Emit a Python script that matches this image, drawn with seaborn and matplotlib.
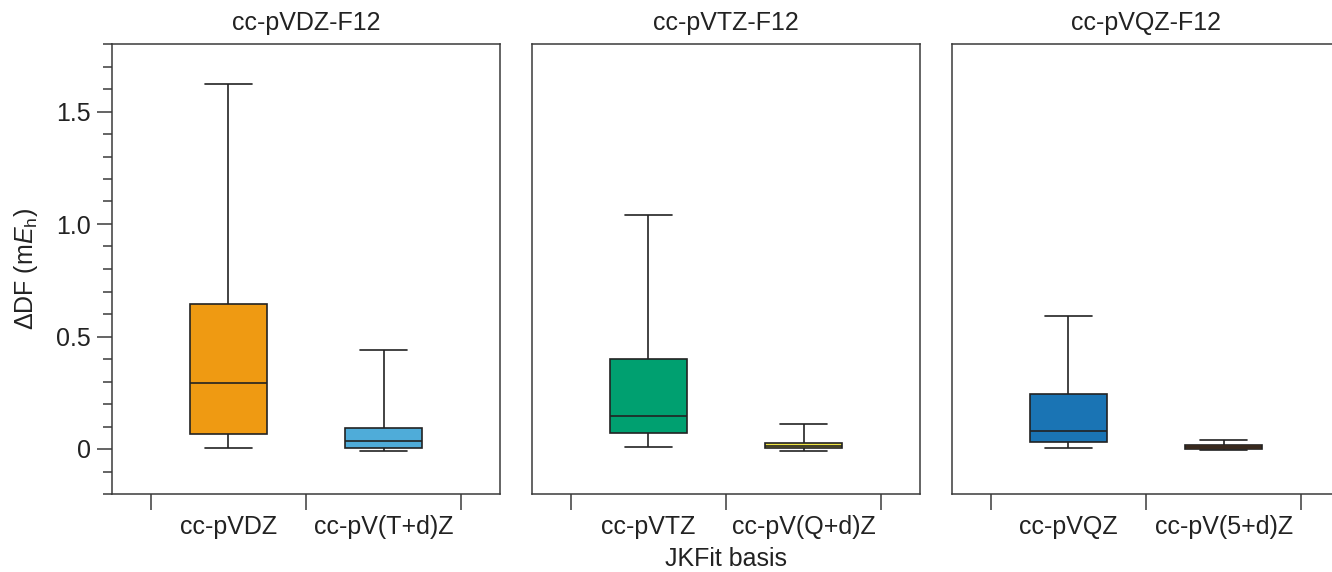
import numpy as np
import pandas as pd
import matplotlib
matplotlib.use("Agg")
import matplotlib.pyplot as plt
from matplotlib.ticker import MultipleLocator
import seaborn as sns

# Orbital basis of each panel
orbital_basis = ["cc-pVDZ-F12", "cc-pVTZ-F12", "cc-pVQZ-F12"]

# JKFit basis names inside each panel
jkfit_names = [
    ["cc-pVDZ", "cc-pV(T+d)Z"],
    ["cc-pVTZ", "cc-pV(Q+d)Z"],
    ["cc-pVQZ", "cc-pV(5+d)Z"],
]

# Five-number summaries: min, Q1, median, Q3, max (mEh)
ddf_vdz = [0.003, 0.067, 0.294, 0.645, 1.621]
ddf_vtpdz = [-0.008, 0.003, 0.037, 0.092, 0.440]
ddf_vtz = [0.010, 0.070, 0.147, 0.400, 1.041]
ddf_vqpdz = [-0.008, 0.003, 0.013, 0.028, 0.111]
ddf_vqz = [0.006, 0.030, 0.081, 0.245, 0.589]
ddf_v5pdz = [-0.006, -0.001, 0.007, 0.016, 0.041]

panel_values = [
    [ddf_vdz, ddf_vtpdz],
    [ddf_vtz, ddf_vqpdz],
    [ddf_vqz, ddf_v5pdz],
]

box_colors = [
    ["#EF9A12", "#4FACD9"],
    ["#00A070", "#F0E442"],
    ["#1A74B4", "#A8500E"],
]

sns.set_theme(style="ticks")
plt.rcParams["font.family"] = ["Liberation Sans", "DejaVu Sans"]
plt.rcParams["mathtext.fontset"] = "custom"
plt.rcParams["mathtext.rm"] = "Liberation Sans"
plt.rcParams["mathtext.it"] = "Liberation Sans:italic"
plt.rcParams["text.color"] = "#222222"
plt.rcParams["xtick.labelcolor"] = "#222222"
plt.rcParams["ytick.labelcolor"] = "#222222"
plt.rcParams["axes.labelcolor"] = "#222222"

spine_col = "#3a3a3a"
line_col = "#222222"
fs = 18

fig, axes = plt.subplots(1, 3, figsize=(13.32, 5.72), dpi=100, sharey=True)
fig.subplots_adjust(left=112 / 1332, right=1340 / 1332,
                    bottom=1 - 494 / 572, top=1 - 44 / 572,
                    wspace=32 / 388)

for i, ax in enumerate(axes):
    names = jkfit_names[i]
    rows = []
    for name, vals in zip(names, panel_values[i]):
        for v in vals:
            rows.append({"JKFit": name, "dDF": v})
    df = pd.DataFrame(rows)

    sns.boxplot(
        data=df, x="JKFit", y="dDF", hue="JKFit", order=names, hue_order=names,
        palette=box_colors[i], saturation=1, width=0.5, whis=(0, 100),
        showfliers=False, linecolor=line_col, linewidth=1.2, legend=False,
        ax=ax, capwidths=0.3,
    )

    ax.set_xlim(-0.75, 1.75)
    ax.set_xticks([-0.5, 0.5, 1.5])
    ax.set_xticklabels([])
    ax.set_xticks([0, 1], minor=True)
    ax.set_xticklabels(names, minor=True, fontsize=fs)
    ax.tick_params(axis="x", which="major", direction="out", length=11.5,
                   width=1.1, color=spine_col)
    ax.tick_params(axis="x", which="minor", length=0, pad=15)

    ax.set_title(orbital_basis[i], fontsize=fs, pad=10)
    ax.set_xlabel("JKFit basis" if i == 1 else "", fontsize=fs, labelpad=6)

    for sp in ax.spines.values():
        sp.set_visible(True)
        sp.set_color(spine_col)
        sp.set_linewidth(1.1)

ax0 = axes[0]
ax0.set_ylim(-0.2, 1.8)
ax0.set_yticks([0, 0.5, 1.0, 1.5])
ax0.set_yticklabels(["0", "0.5", "1.0", "1.5"], fontsize=fs)
ax0.yaxis.set_minor_locator(MultipleLocator(0.1))
ax0.tick_params(axis="y", which="major", direction="out", length=11,
                width=1.1, color=spine_col, pad=4)
ax0.tick_params(axis="y", which="minor", direction="out", length=6.5,
                width=1.1, color=spine_col)
ax0.set_ylabel("ΔDF (m$E_\\mathrm{h}$)", fontsize=fs, labelpad=12)

for ax in axes[1:]:
    ax.set_ylabel("")
    ax.tick_params(axis="y", which="both", left=False, labelleft=False)

fig.savefig("out.png", dpi=100)
